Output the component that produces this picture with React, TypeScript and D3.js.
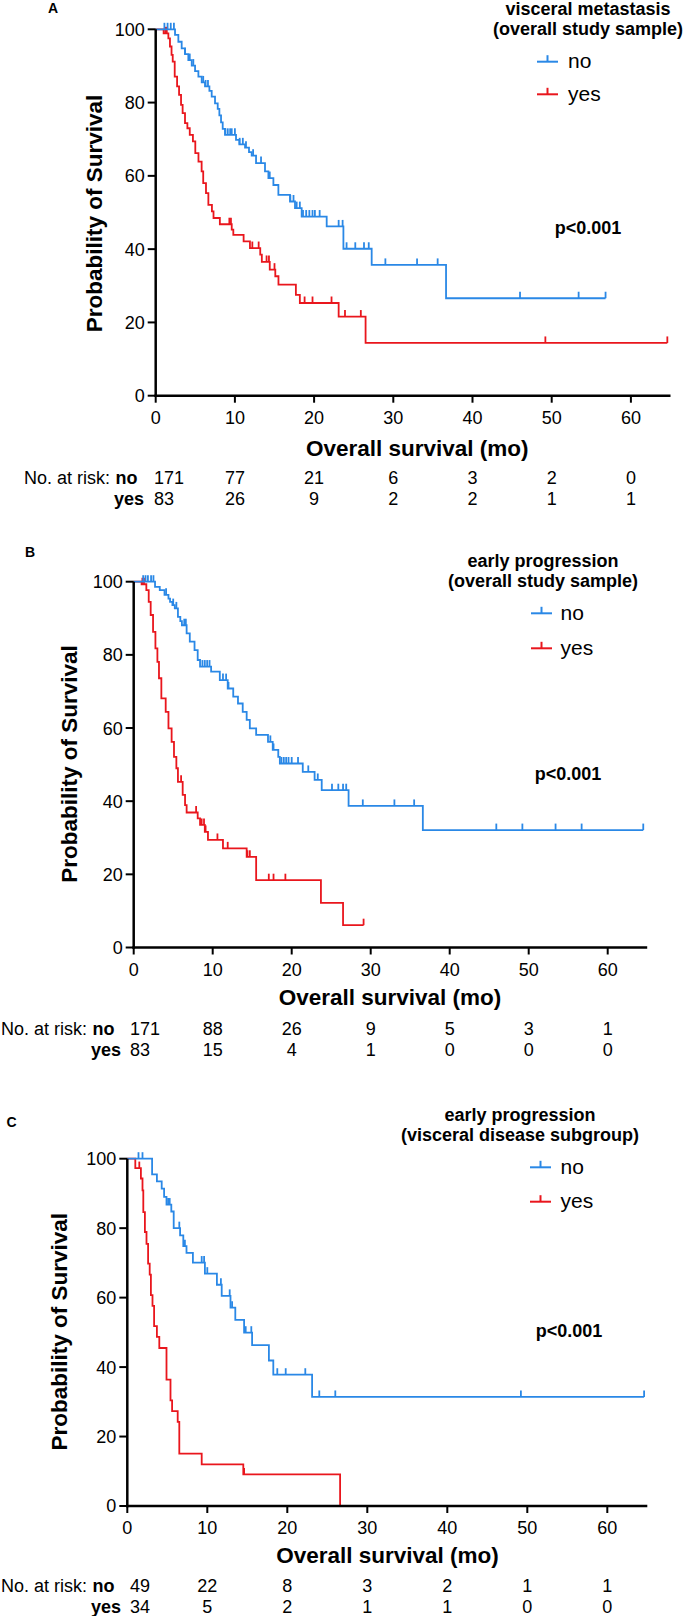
import React from 'react';
import * as d3 from 'd3';

const FONT = "'Liberation Sans', Arial, Helvetica, sans-serif";
const BLUE = '#2a88e6';
const RED = '#e9161d';

// ---------- shared axis values ----------
const timeTicks = [0, 10, 20, 30, 40, 50, 60];
const survivalTicks = [0, 20, 40, 60, 80, 100];
const groupLabels = ['no', 'yes'];
const pValueText = 'p<0.001';
const xAxisTitle = 'Overall survival (mo)';
const yAxisTitle = 'Probability of Survival';
const riskLabel = 'No. at risk:';

// ---------- Panel A: visceral metastasis (overall study sample) ----------
const aTitle = ['visceral metastasis', '(overall study sample)'];
const aNoSteps: [number, number][] = [
  [2.44, 98.5], [2.86, 96.6], [3.28, 94.8], [3.7, 93.2], [4.12, 91.6], [4.55, 90.1],
  [4.97, 88.6], [5.39, 87.1], [5.81, 85.5], [6.23, 84.4], [6.78, 83.2], [7.07, 81.6],
  [7.49, 79.8], [7.83, 78.3], [8.04, 76.5], [8.25, 74.6], [8.46, 72.8], [8.75, 71.2],
  [10.14, 69.8], [10.56, 68.6], [11.28, 67.7], [11.78, 66.5], [12.12, 65.5], [12.67, 63.5],
  [13.8, 61.2], [14.23, 59.4], [14.86, 57.5], [15.49, 54.8], [16.96, 53.0], [17.59, 51.2],
  [18.43, 48.9], [21.59, 46.2], [23.7, 40.1], [27.27, 35.7], [36.66, 26.6],
];
const aNoEnd = 56.8;
const aNoCensor = [1.1, 1.5, 1.9, 2.3, 3.7, 4.3, 4.75, 6.0, 6.3, 6.6, 8.8, 9.1, 9.4, 9.6, 10.0,
  10.6, 11.0, 11.4, 12.3, 13.3, 14.4, 17.0, 17.4, 17.8, 18.2, 18.6, 19.0, 19.4, 19.8, 20.1, 20.7,
  23.1, 23.6, 24.1, 25.2, 26.3, 26.9, 29.0, 33.0, 35.6, 46.0, 53.4, 56.8];
const aYesSteps: [number, number][] = [
  [1.0, 98.9], [1.6, 97.5], [1.8, 95.3], [2.0, 93.0], [2.15, 91.2], [2.4, 87.1], [2.7, 84.4],
  [2.95, 82.1], [3.2, 79.4], [3.4, 77.1], [3.7, 74.4], [4.0, 73.0], [4.3, 71.2], [4.7, 69.4],
  [5.0, 66.2], [5.4, 63.9], [5.8, 61.2], [6.0, 58.0], [6.35, 55.3], [6.65, 52.1], [7.1, 50.3],
  [7.3, 48.5], [8.1, 46.8], [9.6, 45.3], [9.8, 43.9], [11.1, 42.1], [11.9, 40.3], [13.2, 38.5],
  [13.4, 36.5], [14.4, 34.4], [15.1, 32.6], [15.5, 30.3], [17.7, 27.5], [18.2, 25.3],
  [23.1, 21.6], [26.5, 14.4],
];
const aYesEnd = 64.6;
const aYesCensor = [1.2, 1.4, 9.3, 9.5, 12.2, 13.0, 14.0, 14.3, 15.0, 18.8, 19.8, 22.2, 23.9, 25.9, 49.2, 64.6];
const aRiskNo = [171, 77, 21, 6, 3, 2, 0];
const aRiskYes = [83, 26, 9, 2, 2, 1, 1];

// ---------- Panel B: early progression (overall study sample) ----------
const bTitle = ['early progression', '(overall study sample)'];
const bNoSteps: [number, number][] = [
  [2.7, 98.6], [3.3, 97.7], [3.9, 96.4], [4.4, 95.4], [4.6, 94.5], [4.9, 93.6], [5.2, 92.7],
  [5.6, 90.4], [5.9, 89.2], [6.1, 88.1], [6.7, 85.9], [7.1, 83.6], [7.7, 81.3], [8.1, 78.6],
  [8.4, 76.8], [9.8, 75.4], [10.9, 73.1], [11.9, 70.8], [12.6, 68.6], [13.2, 66.7], [13.8, 64.4],
  [14.3, 62.2], [14.7, 59.9], [15.5, 58.1], [17.0, 56.2], [17.6, 54.0], [18.3, 52.1], [18.5, 50.3],
  [21.4, 48.0], [22.9, 45.8], [23.8, 43.0], [27.2, 38.7], [36.6, 32.1],
];
const bNoEnd = 64.5;
const bNoCensor = [1.2, 1.5, 1.8, 2.2, 2.5, 4.1, 5.0, 5.4, 6.4, 6.6, 8.7, 9.0, 9.3, 9.6, 11.3, 11.7,
  12.0, 17.3, 17.7, 18.7, 19.0, 19.3, 19.6, 20.0, 20.8, 22.1, 23.3, 25.1, 25.9, 26.5, 26.9, 29.0,
  33.0, 35.5, 45.9, 49.2, 53.4, 56.7, 64.5];
const bYesSteps: [number, number][] = [
  [1.0, 99.3], [1.6, 97.7], [1.9, 94.5], [2.15, 90.9], [2.45, 86.3], [2.75, 81.8], [3.0, 78.1],
  [3.2, 73.6], [3.5, 68.1], [4.05, 64.4], [4.4, 59.9], [4.8, 56.2], [5.1, 52.1], [5.4, 49.0],
  [5.6, 45.3], [6.2, 41.7], [6.5, 38.9], [6.7, 36.9], [8.1, 35.3], [8.4, 33.5], [9.0, 31.6],
  [9.4, 29.4], [11.3, 27.1], [14.3, 24.8], [15.5, 18.4], [23.7, 12.2], [26.5, 6.1],
];
const bYesEnd = 29.1;
const bYesCensor = [1.1, 1.3, 6.0, 7.9, 8.6, 8.9, 9.1, 10.6, 11.9, 14.4, 14.7, 17.1, 17.7, 19.2, 29.1];
const bRiskNo = [171, 88, 26, 9, 5, 3, 1];
const bRiskYes = [83, 15, 4, 1, 0, 0, 0];

// ---------- Panel C: early progression (visceral disease subgroup) ----------
const cTitle = ['early progression', '(visceral disease subgroup)'];
const cNoSteps: [number, number][] = [
  [3.1, 95.5], [3.7, 93.5], [4.3, 91.4], [4.6, 89.0], [4.9, 86.8], [5.5, 84.8], [5.8, 80.0],
  [6.6, 77.9], [7.0, 74.8], [7.4, 72.9], [8.2, 70.1], [9.7, 66.9], [11.2, 63.7], [11.8, 60.5],
  [12.9, 57.1], [13.5, 53.6], [14.6, 49.9], [15.6, 46.3], [17.7, 41.9], [18.25, 37.8], [23.1, 31.4],
];
const cNoEnd = 64.6;
const cNoCensor = [1.4, 1.9, 5.1, 5.3, 6.5, 7.2, 9.3, 9.6, 10.0, 11.7, 12.8, 13.1, 14.8, 15.5,
  18.75, 19.8, 22.25, 24.0, 26.0, 49.2, 64.6];
const cYesSteps: [number, number][] = [
  [1.0, 97.3], [1.7, 94.3], [1.9, 90.9], [2.0, 84.6], [2.2, 78.9], [2.4, 75.5], [2.6, 69.8],
  [2.8, 66.6], [2.95, 60.7], [3.15, 57.6], [3.35, 51.8], [3.7, 48.7], [4.0, 45.5], [4.9, 36.4],
  [5.4, 30.4], [5.6, 27.3], [6.3, 24.2], [6.5, 15.1], [9.3, 12.0], [14.5, 9.1], [26.6, 0],
];
const cYesEnd = 26.6;
const cYesCensor = [1.5, 14.6];
const cRiskNo = [49, 22, 8, 3, 2, 1, 1];
const cRiskYes = [34, 5, 2, 1, 1, 0, 0];

// ---------- layout (positions only) ----------
type Layout = {
  label: string; labelX: number; labelY: number;
  x0: number; x1: number; yTop: number; yBot: number;
  titleX: number; titleY1: number; titleY2: number;
  legX: number; legY1: number; legY2: number; legTextX: number;
  pX: number; pY: number;
  yLabX: number; yLabY: number;
  xTitleX: number; xTitleY: number;
  riskX: number; riskY1: number; riskY2: number; riskFirstX: number;
};

const layoutA: Layout = {
  label: 'A', labelX: 48, labelY: 12.7,
  x0: 155.7, x1: 670.5, yTop: 29.3, yBot: 395.7,
  titleX: 588, titleY1: 15, titleY2: 35,
  legX: 537, legY1: 61.7, legY2: 94.3, legTextX: 568,
  pX: 588, pY: 227.5,
  yLabX: 101.5, yLabY: 213.5,
  xTitleX: 417.3, xTitleY: 456,
  riskX: 24, riskY1: 484, riskY2: 505, riskFirstX: 154,
};
const layoutB: Layout = {
  label: 'B', labelX: 25, labelY: 557,
  x0: 133.7, x1: 647.2, yTop: 581.7, yBot: 947.5,
  titleX: 543, titleY1: 566.7, titleY2: 586.7,
  legX: 531, legY1: 613.3, legY2: 648.3, legTextX: 560.5,
  pX: 568, pY: 773.3,
  yLabX: 77, yLabY: 764,
  xTitleX: 390, xTitleY: 1005,
  riskX: 1, riskY1: 1035, riskY2: 1056, riskFirstX: 130,
};
const layoutC: Layout = {
  label: 'C', labelX: 6.5, labelY: 1126.5,
  x0: 127.3, x1: 647.3, yTop: 1158.7, yBot: 1506,
  titleX: 520, titleY1: 1120.7, titleY2: 1141,
  legX: 530, legY1: 1167.3, legY2: 1201.7, legTextX: 560.5,
  pX: 569, pY: 1330.7,
  yLabX: 67, yLabY: 1331.7,
  xTitleX: 387.5, xTitleY: 1563.3,
  riskX: 1, riskY1: 1592, riskY2: 1612.5, riskFirstX: 130,
};

type Curve = { steps: [number, number][]; end: number; censor: number[]; color: string };

function survivalAt(steps: [number, number][], t: number): number {
  let s = 100;
  for (const [st, sv] of steps) {
    if (st <= t + 1e-9) s = sv; else break;
  }
  return s;
}

function Panel({ L, title, curves, riskNo, riskYes }: {
  L: Layout; title: string[]; curves: Curve[]; riskNo: number[]; riskYes: number[];
}) {
  const x = d3.scaleLinear().domain([0, 65]).range([L.x0, L.x1]);
  const y = d3.scaleLinear().domain([0, 100]).range([L.yBot, L.yTop]);
  const line = d3.line<[number, number]>().x(d => x(d[0])).y(d => y(d[1])).curve(d3.curveStepAfter);
  const tickLen = 6.5;

  return (
    <g fontFamily={FONT}>
      <text x={L.labelX} y={L.labelY} fontSize={14} fontWeight="bold">{L.label}</text>
      {/* legend title */}
      <text x={L.titleX} y={L.titleY1} fontSize={18} fontWeight="bold" textAnchor="middle">{title[0]}</text>
      <text x={L.titleX} y={L.titleY2} fontSize={18} fontWeight="bold" textAnchor="middle">{title[1]}</text>
      {/* legend entries */}
      {groupLabels.map((g, i) => {
        const ly = i === 0 ? L.legY1 : L.legY2;
        const col = i === 0 ? BLUE : RED;
        return (
          <g key={g}>
            <line x1={L.legX} x2={L.legX + 21} y1={ly} y2={ly} stroke={col} strokeWidth={2} />
            <line x1={L.legX + 10.5} x2={L.legX + 10.5} y1={ly} y2={ly - 6.5} stroke={col} strokeWidth={2} />
            <text x={L.legTextX} y={ly + 6.5} fontSize={21}>{g}</text>
          </g>
        );
      })}
      {/* curves */}
      {curves.map((c, i) => {
        const last = c.steps[c.steps.length - 1][1];
        const pts: [number, number][] = [[0, 100], ...c.steps, [c.end, last]];
        return (
          <g key={i}>
            <path d={line(pts) || ''} fill="none" stroke={c.color} strokeWidth={1.8} />
            {c.censor.map((t, j) => {
              const s = survivalAt(c.steps, t);
              return (
                <line key={j} x1={x(t)} x2={x(t)} y1={y(s)} y2={y(s) - tickLen}
                  stroke={c.color} strokeWidth={1.8} />
              );
            })}
          </g>
        );
      })}
      {/* axes */}
      <line x1={L.x0} x2={L.x0} y1={y(0) + 1.25} y2={y(100)} stroke="#000" strokeWidth={2.5} />
      <line x1={L.x0 - 1.25} x2={x(65)} y1={y(0)} y2={y(0)} stroke="#000" strokeWidth={2.5} />
      {survivalTicks.map(v => (
        <g key={v}>
          <line x1={L.x0 - 8} x2={L.x0} y1={y(v)} y2={y(v)} stroke="#000" strokeWidth={2} />
          <text x={L.x0 - 11} y={y(v)} dy="0.36em" fontSize={18} textAnchor="end">{v}</text>
        </g>
      ))}
      {timeTicks.map(v => (
        <g key={v}>
          <line x1={x(v)} x2={x(v)} y1={y(0)} y2={y(0) + 7} stroke="#000" strokeWidth={2} />
          <text x={x(v)} y={y(0) + 28.3} fontSize={18} textAnchor="middle">{v}</text>
        </g>
      ))}
      <text x={L.xTitleX} y={L.xTitleY} fontSize={22.5} fontWeight="bold" textAnchor="middle">{xAxisTitle}</text>
      <text transform={`translate(${L.yLabX},${L.yLabY}) rotate(-90)`} fontSize={22.5} fontWeight="bold" textAnchor="middle">{yAxisTitle}</text>
      <text x={L.pX} y={L.pY} dy="0.36em" fontSize={18} fontWeight="bold" textAnchor="middle">{pValueText}</text>
      {/* risk table */}
      <text x={L.riskX} y={L.riskY1} fontSize={18}>{riskLabel}</text>
      <text x={L.riskX + 113.6} y={L.riskY1} fontSize={18} fontWeight="bold" textAnchor="end">{groupLabels[0]}</text>
      <text x={L.riskX + 120} y={L.riskY2} fontSize={18} fontWeight="bold" textAnchor="end">{groupLabels[1]}</text>
      {[riskNo, riskYes].map((row, r) => row.map((n, j) => (
        <text key={`${r}-${j}`} x={j === 0 ? L.riskFirstX : x(timeTicks[j])}
          y={r === 0 ? L.riskY1 : L.riskY2} fontSize={18}
          textAnchor={j === 0 ? 'start' : 'middle'}>{n}</text>
      )))}
    </g>
  );
}

export default function App() {
  return (
    <svg width={685} height={1616} style={{ position: 'absolute', left: 0, top: 0, background: '#fff' }}>
      <rect x={0} y={0} width={685} height={1616} fill="#fff" />
      <Panel L={layoutA} title={aTitle} riskNo={aRiskNo} riskYes={aRiskYes} curves={[
        { steps: aYesSteps, end: aYesEnd, censor: aYesCensor, color: RED },
        { steps: aNoSteps, end: aNoEnd, censor: aNoCensor, color: BLUE },
      ]} />
      <Panel L={layoutB} title={bTitle} riskNo={bRiskNo} riskYes={bRiskYes} curves={[
        { steps: bYesSteps, end: bYesEnd, censor: bYesCensor, color: RED },
        { steps: bNoSteps, end: bNoEnd, censor: bNoCensor, color: BLUE },
      ]} />
      <Panel L={layoutC} title={cTitle} riskNo={cRiskNo} riskYes={cRiskYes} curves={[
        { steps: cYesSteps, end: cYesEnd, censor: cYesCensor, color: RED },
        { steps: cNoSteps, end: cNoEnd, censor: cNoCensor, color: BLUE },
      ]} />
    </svg>
  );
}
